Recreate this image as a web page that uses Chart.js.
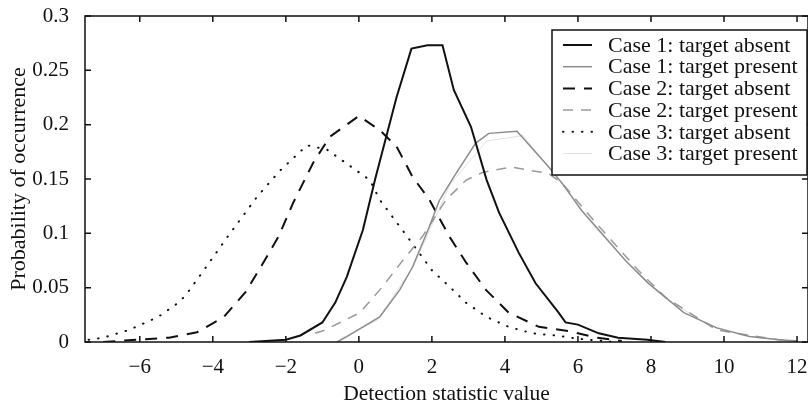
<!DOCTYPE html>
<html>
<head>
<meta charset="utf-8">
<script src="https://cdn.jsdelivr.net/npm/chart.js@4/dist/chart.umd.min.js"></script>
<style>
  html, body { margin: 0; padding: 0; background: #fff; }
  #wrap { width: 808px; height: 409px; }
</style>
</head>
<body>
<div id="wrap"><canvas id="chart" width="808" height="409"></canvas></div>
<script>
const xTicks = [-6, -4, -2, 0, 2, 4, 6, 8, 10, 12];
const yTicks = [0, 0.05, 0.1, 0.15, 0.2, 0.25, 0.3];

const case1AbsentX = [-3, -2, -1.6, -1.0, -0.65, -0.33, 0.11, 0.44, 1.03, 1.44, 1.88, 2.29, 2.6, 3.07, 3.5, 3.84, 4.38, 4.84, 5.47, 5.66, 6.0, 6.57, 7.1, 7.9, 8.4];
const case1AbsentY = [0, 0.002, 0.006, 0.018, 0.036, 0.06, 0.103, 0.149, 0.225, 0.27, 0.273, 0.273, 0.232, 0.198, 0.149, 0.119, 0.082, 0.054, 0.027, 0.018, 0.016, 0.008, 0.004, 0.002, 0];

const case1PresentX = [-0.6, -0.33, 0.57, 1.12, 1.47, 1.93, 2.2, 2.6, 3.2, 3.56, 4.33, 5.2, 5.57, 6.1, 6.65, 7.3, 7.93, 8.47, 8.9, 9.8, 10.7, 11.5, 12];
const case1PresentY = [0, 0.005, 0.023, 0.048, 0.069, 0.106, 0.13, 0.152, 0.183, 0.192, 0.194, 0.161, 0.146, 0.121, 0.1, 0.075, 0.054, 0.039, 0.027, 0.013, 0.005, 0.002, 0.001];

const case2AbsentX = [-7, -5.2, -4.43, -3.7, -3.1, -2.65, -2.2, -1.8, -1.25, -0.79, -0.33, 0, 0.57, 1.03, 1.47, 1.93, 2.48, 2.94, 3.48, 4.1, 4.93, 5.74, 6.5, 7.2];
const case2AbsentY = [0, 0.004, 0.009, 0.023, 0.046, 0.071, 0.097, 0.128, 0.165, 0.189, 0.2, 0.208, 0.195, 0.18, 0.152, 0.131, 0.097, 0.073, 0.048, 0.027, 0.014, 0.01, 0.004, 0.001];

const case2PresentX = [-1.2, -0.93, 0.03, 0.65, 1.2, 1.74, 2.39, 2.94, 3.38, 4.16, 5.2, 5.57, 6.48, 7.65, 8.4, 9.8, 11.5, 12];
const case2PresentY = [0.008, 0.011, 0.027, 0.051, 0.075, 0.097, 0.131, 0.149, 0.156, 0.161, 0.155, 0.146, 0.11, 0.066, 0.041, 0.011, 0.002, 0.001];

const case3AbsentX = [-7.4, -7.0, -6.3, -5.5, -4.95, -4.74, -4.14, -3.57, -2.78, -2.15, -1.42, -0.87, 0.3, 0.57, 1.39, 2.0, 2.48, 2.94, 3.5, 4.1, 4.74, 5.4, 6.0, 7.0];
const case3AbsentY = [0.002, 0.004, 0.011, 0.023, 0.036, 0.043, 0.071, 0.098, 0.134, 0.158, 0.181, 0.177, 0.149, 0.131, 0.094, 0.066, 0.051, 0.036, 0.023, 0.014, 0.008, 0.006, 0.003, 0];

const case3PresentX = [-0.5, 0.5, 1.5, 2.5, 3.5, 4.5, 5.5, 6.5, 7.5, 8.5, 9.5, 10.5, 11.5];
const case3PresentY = [0.003, 0.02, 0.07, 0.145, 0.185, 0.19, 0.148, 0.104, 0.068, 0.038, 0.017, 0.006, 0.002];

const serif = "'Liberation Serif', 'DejaVu Serif', serif";

const pts = (xs, ys) => xs.map((x, i) => ({ x: x, y: ys[i] }));

const series = [
  { label: 'Case 1: target absent', data: pts(case1AbsentX, case1AbsentY), color: '#111', width: 2, dash: [] },
  { label: 'Case 1: target present', data: pts(case1PresentX, case1PresentY), color: '#8c8c8c', width: 1.5, dash: [] },
  { label: 'Case 2: target absent', data: pts(case2AbsentX, case2AbsentY), color: '#111', width: 2, dash: [12, 9] },
  { label: 'Case 2: target present', data: pts(case2PresentX, case2PresentY), color: '#9a9a9a', width: 1.5, dash: [10, 8] },
  { label: 'Case 3: target absent', data: pts(case3AbsentX, case3AbsentY), color: '#111', width: 2, dash: [0.5, 9], cap: 'round' },
  { label: 'Case 3: target present', data: pts(case3PresentX, case3PresentY), color: '#e2e2e2', width: 1, dash: [] }
];

// inward ticks + frame round the plot
const framePlugin = {
  id: 'frame',
  afterDatasetsDraw(chart) {
    const { ctx, chartArea: a, scales } = chart;
    ctx.save();
    ctx.strokeStyle = '#111';
    ctx.lineWidth = 1.5;
    ctx.strokeRect(a.left, a.top, a.right - a.left, a.bottom - a.top);
    ctx.beginPath();
    xTicks.forEach(v => {
      const px = scales.x.getPixelForValue(v);
      ctx.moveTo(px, a.bottom); ctx.lineTo(px, a.bottom - 6);
      ctx.moveTo(px, a.top); ctx.lineTo(px, a.top + 6);
    });
    yTicks.forEach(v => {
      const py = scales.y.getPixelForValue(v);
      ctx.moveTo(a.left, py); ctx.lineTo(a.left + 6, py);
      ctx.moveTo(a.right, py); ctx.lineTo(a.right - 6, py);
    });
    ctx.stroke();
    ctx.restore();
  }
};

// boxed legend inside the plot, upper right
const legendPlugin = {
  id: 'boxLegend',
  afterDraw(chart) {
    const ctx = chart.ctx;
    const left = 552, top = 30, right = 807, bottom = 175;
    ctx.save();
    ctx.fillStyle = '#fff';
    ctx.fillRect(left, top, right - left, bottom - top);
    ctx.strokeStyle = '#111';
    ctx.lineWidth = 1.5;
    ctx.strokeRect(left, top, right - left, bottom - top);
    ctx.font = '22px ' + serif;
    ctx.textBaseline = 'middle';
    chart.data.datasets.forEach((ds, i) => {
      const y = top + 15 + i * 21.7;
      ctx.strokeStyle = ds.borderColor;
      ctx.lineWidth = ds.borderWidth;
      ctx.lineCap = ds.borderCapStyle || 'butt';
      ctx.setLineDash(ds.borderDash || []);
      ctx.beginPath();
      ctx.moveTo(563, y); ctx.lineTo(592, y);
      ctx.stroke();
      ctx.setLineDash([]);
      ctx.fillStyle = '#111';
      ctx.fillText(ds.label, 608, y + 1);
    });
    ctx.restore();
  }
};

new Chart(document.getElementById('chart'), {
  type: 'line',
  data: {
    datasets: series.map((s, i) => ({
      label: s.label,
      data: s.data,
      borderColor: s.color,
      borderWidth: s.width,
      borderDash: s.dash,
      borderCapStyle: s.cap || 'butt',
      pointRadius: 0,
      tension: 0,
      fill: false,
      order: i === 5 ? 10 : i
    }))
  },
  options: {
    responsive: false,
    animation: false,
    layout: { padding: { top: 16, right: 0, left: 0, bottom: 0 } },
    plugins: { legend: { display: false }, tooltip: { enabled: false } },
    scales: {
      x: {
        type: 'linear',
        min: -7.5,
        max: 12.3,
        grid: { display: false },
        border: { display: false },
        afterBuildTicks: s => { s.ticks = xTicks.map(v => ({ value: v })); },
        afterFit: s => { s.height = 67; s.paddingLeft = 0; s.paddingRight = 0; },
        ticks: {
          color: '#111',
          padding: 5,
          maxRotation: 0,
          font: { family: serif, size: 21 },
          callback: v => String(v).replace('-', '\u2212')
        },
        title: {
          display: true,
          text: 'Detection statistic value',
          color: '#111',
          font: { family: serif, size: 21.5 },
          padding: { top: 0, bottom: 2 }
        }
      },
      y: {
        min: 0,
        max: 0.3,
        grid: { display: false },
        border: { display: false },
        afterBuildTicks: s => { s.ticks = yTicks.map(v => ({ value: v })); },
        afterFit: s => { s.width = 85; s.paddingTop = 0; s.paddingBottom = 0; },
        ticks: {
          color: '#111',
          padding: 8,
          font: { family: serif, size: 21 },
          callback: v => String(v)
        },
        title: {
          display: true,
          text: 'Probability of occurrence',
          color: '#111',
          font: { family: serif, size: 22 },
          padding: { top: 6, bottom: 0 }
        }
      }
    }
  },
  plugins: [framePlugin, legendPlugin]
});
</script>
</body>
</html>
